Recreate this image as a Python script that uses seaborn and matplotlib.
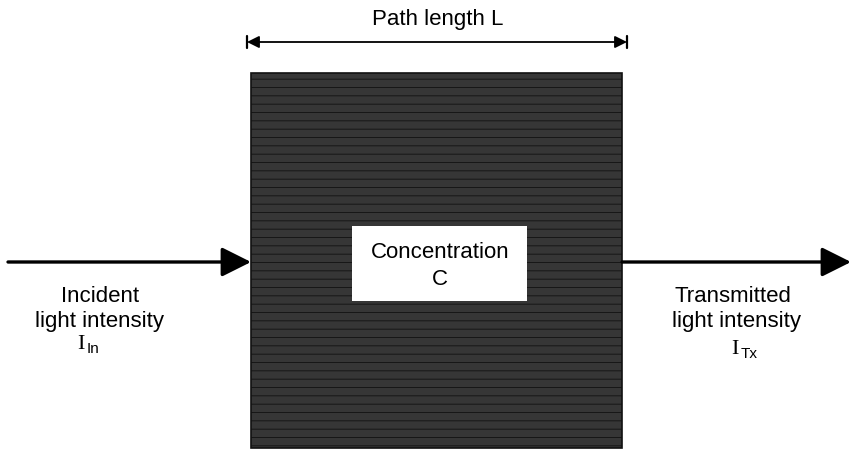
import matplotlib
matplotlib.use('Agg')
import matplotlib.pyplot as plt
import seaborn as sns
from matplotlib.patches import Rectangle

# diagram texts
top_label = 'Path length L'
box_label = ['Concentration', 'C']
left_label = ['Incident', 'light intensity']
right_label = ['Transmitted', 'light intensity']
left_sym = ('I', 'In')
right_sym = ('I', 'Tx')

sns.set_style('white')
plt.rcParams['font.family'] = ['Liberation Sans', 'DejaVu Sans']
plt.rcParams['text.color'] = 'black'
plt.rcParams['hatch.color'] = '#8c8c8c'
plt.rcParams['hatch.linewidth'] = 0.6

fig = plt.figure(figsize=(8.53, 4.52), dpi=100)
ax = fig.add_axes([0, 0, 1, 1])
ax.set_xlim(0, 853)
ax.set_ylim(452, 0)
ax.axis('off')

fs = 16

# sample cell (dark, streaky)
ax.add_patch(Rectangle((251, 74), 371, 375, facecolor='#363636', edgecolor='#111111',
                       lw=1.2, hatch='--', zorder=1))
ax.add_patch(Rectangle((352, 227), 175, 75, facecolor='white', edgecolor='none', zorder=2))
ax.text(440, 258, box_label[0], ha='center', va='baseline', fontsize=fs, zorder=3)
ax.text(440, 285, box_label[1], ha='center', va='baseline', fontsize=fs, zorder=3)

# path length
ax.annotate('', xy=(247, 43), xytext=(627, 43),
            arrowprops=dict(arrowstyle='<|-|>,head_length=0.6,head_width=0.3',
                            color='black', lw=1.3, shrinkA=0, shrinkB=0, mutation_scale=12))
ax.plot([247, 247], [37, 49], color='black', lw=1.6)
ax.plot([627, 627], [37, 49], color='black', lw=1.6)
ax.text(438, 25, top_label, ha='center', va='baseline', fontsize=fs)

# incident and transmitted beams
beam = dict(arrowstyle='-|>,head_length=1.0,head_width=0.5', color='black', lw=2.4,
            shrinkA=0, shrinkB=0, mutation_scale=18)
ax.annotate('', xy=(251, 263), xytext=(8, 263), arrowprops=beam)
ax.annotate('', xy=(851, 263), xytext=(622, 263), arrowprops=beam)

ax.text(100, 302, left_label[0], ha='center', va='baseline', fontsize=fs)
ax.text(100, 327, left_label[1], ha='center', va='baseline', fontsize=fs)
ax.text(81, 349, left_sym[0], ha='center', va='baseline', fontsize=16, family='Liberation Serif')
ax.text(87, 353, left_sym[1], ha='left', va='baseline', fontsize=11)

ax.text(733, 302, right_label[0], ha='center', va='baseline', fontsize=fs)
ax.text(737, 327, right_label[1], ha='center', va='baseline', fontsize=fs)
ax.text(735, 354, right_sym[0], ha='center', va='baseline', fontsize=16, family='Liberation Serif')
ax.text(741, 358, right_sym[1], ha='left', va='baseline', fontsize=11)

fig.savefig('out.png', dpi=100)
